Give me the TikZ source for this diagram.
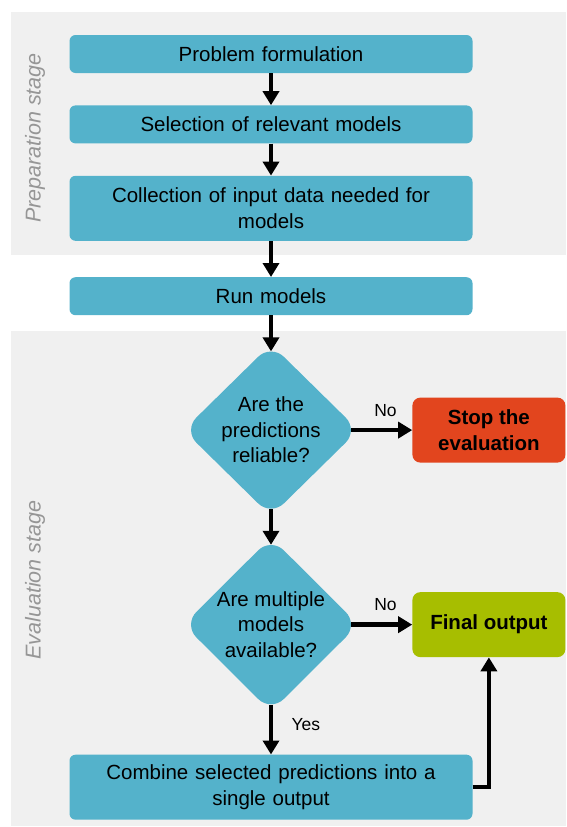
\documentclass[tikz,border=0pt]{standalone}
\usepackage{fontspec}
\setmainfont{Liberation Sans}
\usepackage{tikz}
\usetikzlibrary{arrows.meta,positioning,shapes.geometric}
\usepackage{xcolor}
\definecolor{boxblue}{RGB}{84,178,203}
\definecolor{stopred}{RGB}{226,69,30}
\definecolor{okgreen}{RGB}{167,190,0}
\definecolor{panelgray}{RGB}{240,240,240}
\definecolor{stagegray}{RGB}{150,150,150}

\begin{document}
\begin{tikzpicture}[
  x=1pt, y=-1pt,
  font=\fontsize{20.5}{25.5}\selectfont,
  box/.style={fill=boxblue, rounded corners=6pt, minimum width=403pt, text width=390pt, align=center, inner sep=0pt},
  decide/.style={diamond, fill=boxblue, rounded corners=18pt, minimum width=175pt, minimum height=172pt, align=center, inner sep=0pt},
  endbox/.style={rounded corners=8pt, minimum width=153pt, minimum height=65pt, align=center, inner sep=0pt, font=\fontsize{20.5}{25.5}\selectfont\bfseries},
  stage/.style={rotate=90, text=stagegray, font=\fontsize{21.5}{24}\selectfont\itshape},
  lbl/.style={font=\fontsize{17.5}{20}\selectfont},
  arrow/.style={-{Triangle[length=14pt,width=16pt]}, line width=4.5pt}
]
\useasboundingbox (0,0) rectangle (566,827);
\fill[panelgray] (11,12) rectangle (566,255);
\fill[panelgray] (11,331) rectangle (566,826);
\node[stage] (prepstage) at (35,138) {Preparation stage};
\node[stage] (evalstage) at (35,580) {Evaluation stage};

\node[box, minimum height=38pt] (formulate) at (271,54) {Problem formulation};
\node[box, minimum height=38pt, below=32pt of formulate] (select) {Selection of relevant models};
\node[box, minimum height=65pt, below=32pt of select] (collect) {Collection of input data needed for\\models};
\node[box, minimum height=38pt, below=36pt of collect] (run) {Run models};
\node[decide, below=28.5pt of run] (reliable) {Are the\\predictions\\reliable?};
\node[decide, below=21pt of reliable] (multiple) {Are multiple\\models\\available?};
\node[box, minimum height=65pt, below=42.5pt of multiple] (combine) {Combine selected predictions into a\\single output};
\node[endbox, fill=stopred, right=53.5pt of reliable] (stop) {Stop the\\evaluation};
\node[endbox, fill=okgreen, right=53.5pt of multiple] (final) {Final output};

\draw[arrow] (formulate) -- (select);
\draw[arrow] (select) -- (collect);
\draw[arrow] (collect) -- (run);
\draw[arrow, shorten >=-7.5pt] (run) -- (reliable);
\draw[arrow, shorten <=-7.5pt] (reliable) -- node[lbl, above=8pt] {No} (stop);
\draw[arrow, shorten <=-7.5pt, shorten >=-7.5pt] (reliable) -- (multiple);
\draw[arrow, shorten <=-7.5pt] (multiple) -- node[lbl, above=8pt] {No} (final);
\draw[arrow, shorten <=-7.5pt] (multiple) -- node[lbl, right=15pt, pos=0.3] {Yes} (combine);
\draw[arrow] (combine.east) -| (final.south);
\end{tikzpicture}
\end{document}
